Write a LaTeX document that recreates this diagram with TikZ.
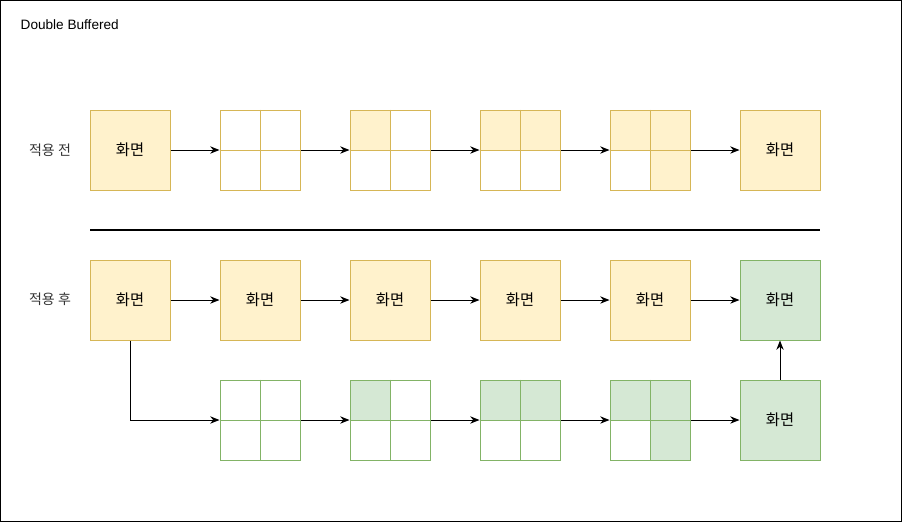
\documentclass[tikz,border=0pt]{standalone}
\usepackage{fontspec}
\setmainfont{Liberation Sans}
\newfontfamily\kr{Noto Sans CJK KR}
\usetikzlibrary{arrows.meta,positioning}
\definecolor{YellowFill}{HTML}{FFF2CC}
\definecolor{YellowLine}{HTML}{D6B656}
\definecolor{GreenFill}{HTML}{D5E8D4}
\definecolor{GreenLine}{HTML}{82B366}

\tikzset{
  screen/.style={draw=#1Line,fill=#1Fill,line width=0.75pt,minimum size=60pt,
    inner sep=0pt,font=\kr\fontsize{11.5}{13}\selectfont},
  buffer/.style={draw=#1Line,line width=0.75pt,minimum size=60pt,inner sep=0pt},
  flow/.style={-{Stealth[length=7pt,width=5.5pt]},line width=0.75pt},
  rowlabel/.style={font=\kr\fontsize{10.5}{12}\selectfont,text=black!80},
}

% name, x, y, colour, then the four quarters (tl, tr, bl, br): 1 = filled
\newcommand{\bufferbox}[8]{%
  \ifnum#5=1 \fill[#4Fill] (#2-40,#3-40) rectangle (#2,#3);\fi
  \ifnum#6=1 \fill[#4Fill] (#2,#3-40) rectangle (#2+40,#3);\fi
  \ifnum#7=1 \fill[#4Fill] (#2-40,#3) rectangle (#2,#3+40);\fi
  \ifnum#8=1 \fill[#4Fill] (#2,#3) rectangle (#2+40,#3+40);\fi
  \node[buffer=#4] (#1) at (#2,#3) {};
  \draw[#4Line,line width=0.75pt] (#1.north) -- (#1.south) (#1.west) -- (#1.east);
}

\begin{document}
\begin{tikzpicture}[x=0.75pt,y=-0.75pt]
  \useasboundingbox (0,0) rectangle (902,522);
  \draw[line width=0.75pt] (0.5,0.5) rectangle (901.5,521.5);
  \node[anchor=west,font=\fontsize{10.2}{12}\selectfont] (title) at (16,25) {Double Buffered};

  % before
  \node[rowlabel] (before) at (50,150) {적용 전};
  \node[screen=Yellow] (b1) at (130,150) {화면};
  \foreach \n/\x/\tl/\tr/\bl/\br in {b2/260/0/0/0/0,b3/390/1/0/0/0,b4/520/1/1/0/0,b5/650/1/1/0/1}
    {\bufferbox{\n}{\x}{150}{Yellow}{\tl}{\tr}{\bl}{\br}}
  \node[screen=Yellow] (b6) at (780,150) {화면};
  \foreach \a/\b in {b1/b2,b2/b3,b3/b4,b4/b5,b5/b6}
    \draw[flow] (\a) -- (\b);

  \draw[line width=1.5pt] (90,230) -- (820,230);

  % after
  \node[rowlabel] (after) at (50,299) {적용 후};
  \foreach \n/\x in {a1/130,a2/260,a3/390,a4/520,a5/650}
    \node[screen=Yellow] (\n) at (\x,300) {화면};
  \node[screen=Green] (a6) at (780,300) {화면};
  \foreach \a/\b in {a1/a2,a2/a3,a3/a4,a4/a5,a5/a6}
    \draw[flow] (\a) -- (\b);

  \foreach \n/\x/\tl/\tr/\bl/\br in {c1/260/0/0/0/0,c2/390/1/0/0/0,c3/520/1/1/0/0,c4/650/1/1/0/1}
    {\bufferbox{\n}{\x}{420}{Green}{\tl}{\tr}{\bl}{\br}}
  \node[screen=Green] (c5) at (780,420) {화면};
  \draw[flow] (a1.south) |- (c1.west);
  \foreach \a/\b in {c1/c2,c2/c3,c3/c4,c4/c5}
    \draw[flow] (\a) -- (\b);
  \draw[flow] (c5) -- (a6);
\end{tikzpicture}
\end{document}
